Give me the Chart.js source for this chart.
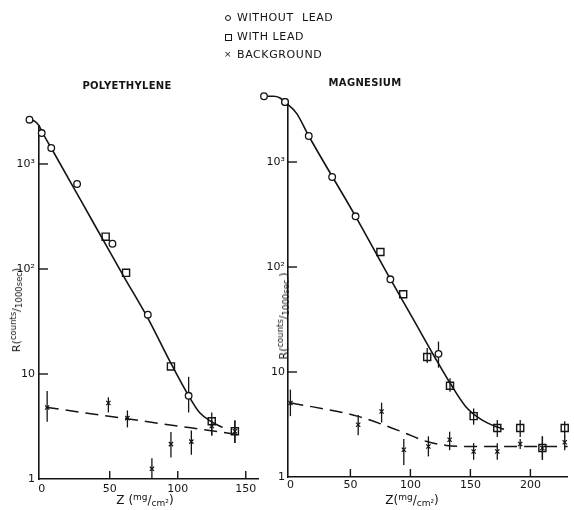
<!DOCTYPE html>
<html>
<head>
<meta charset="utf-8">
<script src="https://cdn.jsdelivr.net/npm/chart.js@4.4.1/dist/chart.umd.min.js"></script>
<style>
  html, body { margin: 0; padding: 0; background: #fff; }
  #wrap { position: relative; width: 574px; height: 510px; overflow: hidden;
          font-family: "DejaVu Sans", sans-serif; color: #141414; }
  #wrap canvas { position: absolute; left: 0; top: 0; }
  .txt { position: absolute; white-space: nowrap; transform: translate(-50%, -50%); }
  .row { position: absolute; left: 237px; font-size: 11px; letter-spacing: 0.6px;
         line-height: 16px; height: 16px; white-space: nowrap; }
  .mk { position: absolute; box-sizing: border-box; }
  .ptitle { font-size: 10px; font-weight: bold; letter-spacing: 0.3px; }
  .ytitle { font-size: 11px; transform: translate(-50%, -50%) rotate(-90deg); }
  .ytitle sup, .ytitle sub { font-size: 8.5px; }
  .xtitle { font-size: 12px; }
  sup, sub { font-size: 9px; }
  sup { vertical-align: 4px; }
  sub { vertical-align: -2px; }
</style>
</head>
<body>
<div id="wrap">
  <canvas id="poly" width="574" height="510"></canvas>
  <canvas id="mag" width="574" height="510"></canvas>

  <div class="mk" style="left:225px;top:15px;width:6px;height:6px;border:1.3px solid #141414;border-radius:50%"></div>
  <div class="row" style="top:10px">WITHOUT&nbsp;&nbsp;LEAD</div>
  <div class="mk" style="left:225px;top:34px;width:7px;height:7px;border:1.4px solid #141414"></div>
  <div class="row" style="top:29px">WITH&nbsp;LEAD</div>
  <div class="mk" style="left:224px;top:49px;font-size:9px;line-height:10px">&times;</div>
  <div class="row" style="top:47px">BACKGROUND</div>

  <div class="txt ptitle" style="left:127px;top:85px">POLYETHYLENE</div>
  <div class="txt ptitle" style="left:365px;top:82px">MAGNESIUM</div>

  <div class="txt ytitle" style="left:16px;top:310px">R(<sup>counts</sup>/<sub>1000sec</sub>)</div>
  <div class="txt ytitle" style="left:283px;top:316px">R(<sup>counts</sup>/<sub>1000sec.</sub>)</div>
  <div class="txt xtitle" style="left:145px;top:500px">Z (<sup>mg</sup>/<sub>cm²</sub>)</div>
  <div class="txt xtitle" style="left:412px;top:500px">Z(<sup>mg</sup>/<sub>cm²</sub>)</div>
</div>

<script>
  // tick values shared by both panels
  const yTickValues = [1, 10, 100, 1000];
  const yTickLabels = ["1", "10", "10²", "10³"];
  const polyXTicks = [0, 50, 100, 150];
  const magXTicks = [0, 50, 100, 150, 200];

  // polyethylene, without lead (circles)
  const polyZNoLead = [-9, 0, 7, 26, 52, 78, 108];
  const polyRNoLead = [2640, 1970, 1420, 645, 174, 36.7, 6.2];
  const polyNoLeadLo = [null, null, null, null, null, null, 4.3];
  const polyNoLeadHi = [null, null, null, null, null, null, 9.4];

  // polyethylene, with lead (squares)
  const polyZLead = [47, 62, 95, 125, 142];
  const polyRLead = [203, 92, 11.8, 3.55, 2.85];
  const polyLeadLo = [null, null, null, 2.6, 2.2];
  const polyLeadHi = [null, null, null, 4.3, 3.6];

  // polyethylene, background (crosses)
  const polyZBg = [4, 49, 63, 81, 95, 110, 125, 142];
  const polyRBg = [4.8, 5.3, 3.8, 1.25, 2.15, 2.27, 3.2, 2.85];
  const polyBgLo = [3.5, 4.3, 3.1, 1.0, 1.6, 1.7, 2.6, 2.2];
  const polyBgHi = [6.9, 6.0, 4.5, 1.58, 2.8, 2.9, 3.6, 3.6];

  // polyethylene, drawn curves
  const polyFitZ = [-9, -5, -2, 0, 7, 30, 50, 61, 78, 95, 108, 116, 125, 133];
  const polyFitR = [2640, 2550, 2320, 2050, 1420, 421, 146, 82, 34, 12.6, 6.2, 4.3, 3.5, 3.1];
  const polyBgLineZ = [3, 147];
  const polyBgLineR = [4.82, 2.62];

  // magnesium, without lead (circles)
  const magZNoLead = [-22, -4.5, 15.3, 34.8, 54.3, 83.3, 123.4];
  const magRNoLead = [4230, 3730, 1770, 720, 304, 76.4, 14.9];
  const magNoLeadLo = [null, null, null, null, null, null, 11.0];
  const magNoLeadHi = [null, null, null, null, null, null, 19.5];

  // magnesium, with lead (squares)
  const magZLead = [75, 94, 114, 133, 152.7, 172.4, 191.5, 210, 228.6];
  const magRLead = [139, 55, 13.9, 7.4, 3.8, 2.93, 2.93, 1.89, 2.93];
  const magLeadLo = [null, null, 12.2, 6.5, 3.15, 2.4, 2.4, 1.46, 2.4];
  const magLeadHi = [null, null, 16.9, 8.7, 4.5, 3.5, 3.5, 2.44, 3.4];

  // magnesium, background (crosses)
  const magZBg = [0, 56.5, 76, 94.5, 115, 132.7, 152.7, 172.4, 191.5, 210, 228.6];
  const magRBg = [5.07, 3.15, 4.2, 1.82, 1.95, 2.26, 1.75, 1.75, 2.06, 1.89, 2.14];
  const magBgLo = [3.8, 2.5, 3.3, 1.3, 1.57, 1.8, 1.46, 1.46, 1.85, 1.46, 1.8];
  const magBgHi = [6.8, 3.9, 5.1, 2.3, 2.44, 2.7, 2.1, 2.1, 2.3, 2.44, 2.44];

  // magnesium, drawn curves
  const magFitZ = [-22, -14, -9, -4.5, 5.3, 15.3, 54.3, 83.6, 102.6, 120.2, 133, 146, 159.5, 173, 178];
  const magFitR = [4230, 4230, 4100, 3730, 2890, 1770, 304, 75.7, 31.5, 13.9, 7.85, 4.7, 3.5, 2.97, 2.85];
  const magBgLineZ = [0, 56.5, 92, 113, 130, 151, 231];
  const magBgLineR = [5.1, 3.78, 2.72, 2.19, 2.0, 1.95, 1.95];

  const INK = "#141414";
  const FONT = "'DejaVu Sans', sans-serif";

  function pts(xs, ys) {
    return xs.map((x, i) => ({ x: x, y: ys[i] }));
  }

  // vertical error bars, drawn under the markers
  const errorBars = {
    id: "errorBars",
    beforeDatasetsDraw(chart) {
      const { ctx, scales } = chart;
      ctx.save();
      ctx.strokeStyle = INK;
      ctx.lineWidth = 1.3;
      chart.data.datasets.forEach((ds) => {
        if (!ds.errLo) return;
        ds.data.forEach((p, i) => {
          if (ds.errLo[i] == null) return;
          const x = scales.x.getPixelForValue(p.x);
          ctx.beginPath();
          ctx.moveTo(x, scales.y.getPixelForValue(ds.errLo[i]));
          ctx.lineTo(x, scales.y.getPixelForValue(ds.errHi[i]));
          ctx.stroke();
        });
      });
      ctx.restore();
    },
  };

  // the first readings sit just outside the axes; chart.js skips those points
  const outsidePoints = {
    id: "outsidePoints",
    afterDatasetsDraw(chart) {
      const a = chart.chartArea;
      chart.getSortedVisibleDatasetMetas().forEach((meta) => {
        meta.data.forEach((el) => {
          if (el.options.radius > 0 && (el.x < a.left || el.y < a.top)) el.draw(chart.ctx);
        });
      });
    },
  };

  // tick marks pointing into the plot
  const innerTicks = {
    id: "innerTicks",
    afterDatasetsDraw(chart, args, opts) {
      const { ctx, scales, chartArea } = chart;
      ctx.save();
      ctx.strokeStyle = INK;
      ctx.lineWidth = 1.4;
      opts.x.forEach((v) => {
        const px = scales.x.getPixelForValue(v);
        ctx.beginPath();
        ctx.moveTo(px, chartArea.bottom);
        ctx.lineTo(px, chartArea.bottom - opts.xLen);
        ctx.stroke();
      });
      opts.y.forEach((v) => {
        const py = scales.y.getPixelForValue(v);
        ctx.beginPath();
        ctx.moveTo(chartArea.left, py);
        ctx.lineTo(chartArea.left + opts.yLen, py);
        ctx.stroke();
      });
      ctx.restore();
    },
  };

  function makePanel(id, p) {
    const datasets = [
      {
        data: pts(p.bgZ, p.bgR), errLo: p.bgLo, errHi: p.bgHi,
        pointStyle: "crossRot", pointRadius: 3, borderColor: INK, borderWidth: 1.2, clip: false,
      },
      {
        data: pts(p.noLeadZ, p.noLeadR), errLo: p.noLeadLo, errHi: p.noLeadHi,
        pointStyle: "circle", pointRadius: 3.3, backgroundColor: "#fff", borderColor: INK, borderWidth: 1.3, clip: false,
      },
      {
        data: pts(p.leadZ, p.leadR), errLo: p.leadLo, errHi: p.leadHi,
        pointStyle: "rect", pointRadius: 5, backgroundColor: "rgba(255,255,255,0)", borderColor: INK, borderWidth: 1.4, clip: false,
      },
      {
        data: pts(p.fitZ, p.fitR), showLine: true, pointRadius: 0, borderColor: INK, borderWidth: 1.6,
        cubicInterpolationMode: "monotone", clip: false,
      },
      {
        data: pts(p.bgLineZ, p.bgLineR), showLine: true, pointRadius: 0, borderColor: INK, borderWidth: 1.5,
        borderDash: [13, 7], cubicInterpolationMode: "monotone", clip: false,
      },
    ];

    return new Chart(document.getElementById(id), {
      type: "scatter",
      data: { datasets },
      plugins: [errorBars, outsidePoints, innerTicks],
      options: {
        responsive: false,
        animation: false,
        events: [],
        layout: { padding: { left: p.padL, right: p.padR, top: p.padT, bottom: 0 } },
        plugins: {
          legend: { display: false },
          tooltip: { enabled: false },
          innerTicks: { x: p.xTicks.filter((v) => v > 0), y: yTickValues.filter((v) => v > 1), xLen: 8, yLen: 9 },
        },
        scales: {
          x: {
            type: "linear",
            bounds: "data",
            grid: { display: false, drawTicks: false },
            border: { display: true, color: INK, width: 1.6 },
            ticks: {
              color: INK, font: { family: FONT, size: 11 }, padding: p.xTickPad,
              autoSkip: false, maxRotation: 0, callback: (v) => String(v),
            },
            // range set here rather than with min/max so the curves keep their off-axis start
            afterDataLimits: (s) => { s.min = p.xMin; s.max = p.xMax; },
            afterBuildTicks: (s) => { s.ticks = p.xTicks.map((v) => ({ value: v })); },
            afterFit: (s) => { s.height = p.xAxisH; },
          },
          y: {
            type: "logarithmic",
            min: 1,
            max: p.yMax,
            grid: { display: false, drawTicks: false },
            border: { display: true, color: INK, width: 1.6 },
            ticks: {
              color: INK, font: { family: FONT, size: 11 }, padding: p.yTickPad,
              autoSkip: false, callback: (v, i) => yTickLabels[i],
            },
            afterBuildTicks: (s) => { s.ticks = yTickValues.map((v) => ({ value: v })); },
            afterFit: (s) => { s.width = p.yAxisW; },
          },
        },
      },
    });
  }

  makePanel("poly", {
    noLeadZ: polyZNoLead, noLeadR: polyRNoLead, noLeadLo: polyNoLeadLo, noLeadHi: polyNoLeadHi,
    leadZ: polyZLead, leadR: polyRLead, leadLo: polyLeadLo, leadHi: polyLeadHi,
    bgZ: polyZBg, bgR: polyRBg, bgLo: polyBgLo, bgHi: polyBgHi,
    fitZ: polyFitZ, fitR: polyFitR, bgLineZ: polyBgLineZ, bgLineR: polyBgLineR,
    xTicks: polyXTicks, xMin: -2, xMax: 159, yMax: 2300,
    padL: 0, padR: 316, padT: 126, yAxisW: 39, xAxisH: 31, xTickPad: 4, yTickPad: 4,
  });

  makePanel("mag", {
    noLeadZ: magZNoLead, noLeadR: magRNoLead, noLeadLo: magNoLeadLo, noLeadHi: magNoLeadHi,
    leadZ: magZLead, leadR: magRLead, leadLo: magLeadLo, leadHi: magLeadHi,
    bgZ: magZBg, bgR: magRBg, bgLo: magBgLo, bgHi: magBgHi,
    fitZ: magFitZ, fitR: magFitR, bgLineZ: magBgLineZ, bgLineR: magBgLineR,
    xTicks: magXTicks, xMin: -2, xMax: 231, yMax: 3730,
    padL: 248, padR: 0, padT: 102, yAxisW: 40, xAxisH: 33, xTickPad: 2, yTickPad: 3,
  });
</script>
</body>
</html>
